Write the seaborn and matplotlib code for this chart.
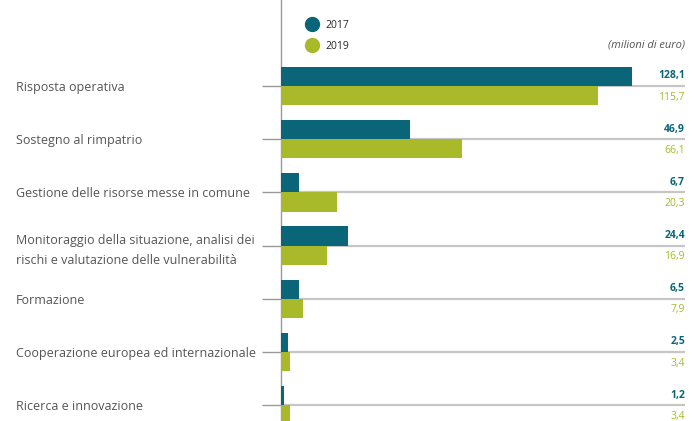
import matplotlib
matplotlib.use("Agg")
import matplotlib.pyplot as plt
from matplotlib.lines import Line2D
import seaborn as sns
import pandas as pd

categories = [
    "Risposta operativa",
    "Sostegno al rimpatrio",
    "Gestione delle risorse messe in comune",
    "Monitoraggio della situazione, analisi dei\nrischi e valutazione delle vulnerabilità",
    "Formazione",
    "Cooperazione europea ed internazionale",
    "Ricerca e innovazione",
]
values_2017 = [128.1, 46.9, 6.7, 24.4, 6.5, 2.5, 1.2]
values_2019 = [115.7, 66.1, 20.3, 16.9, 7.9, 3.4, 3.4]
years = ["2017", "2019"]
unit_label = "(milioni di euro)"

teal = "#0b6579"
green = "#a8b929"

df = pd.DataFrame({
    "cat": categories * 2,
    "val": values_2017 + values_2019,
    "year": [years[0]] * len(categories) + [years[1]] * len(categories),
})

sns.set_style("white")
plt.rcParams["font.family"] = ["Open Sans", "DejaVu Sans"]

W, H = 696, 421
fig = plt.figure(figsize=(W / 100, H / 100), dpi=100)
ax_left = 281 / W
ax_right = 685 / W
ax = fig.add_axes([ax_left, 0.0, ax_right - ax_left, 1.0])

sns.barplot(data=df, y="cat", x="val", hue="year", orient="h",
            palette=[teal, green], width=0.72, gap=0, saturation=1,
            legend=False, ax=ax, zorder=3, linewidth=0, edgecolor="none")

px_per_unit = 2.74
ax.set_xlim(0, (685 - 281) / px_per_unit)
spacing = 53.2
ax.set_ylim((H - 86) / spacing, -86 / spacing)

ax.set_xlabel("")
ax.set_ylabel("")
ax.set_xticks([])
ax.set_yticks(range(len(categories)))
ax.set_yticklabels(categories, ha="left", fontsize=9, color="#555555",
                   linespacing=1.7)
ax.tick_params(axis="y", length=14, width=1.0, color="#9a9a9a", pad=177, left=True)
ax.grid(axis="y", color="#c6c6c6", lw=1.6, zorder=1)
ax.set_axisbelow(True)

for s in ["top", "right", "bottom"]:
    ax.spines[s].set_visible(False)
ax.spines["left"].set_color("#9a9a9a")
ax.spines["left"].set_linewidth(1.0)

def fmt(v):
    return f"{v:.1f}".replace(".", ",")

for i, (a, b) in enumerate(zip(values_2017, values_2019)):
    ax.text(1.0, i - 0.19, fmt(a), transform=ax.get_yaxis_transform(),
            ha="right", va="center", fontsize=7.5, fontweight="bold", color=teal)
    ax.text(1.0, i + 0.21, fmt(b), transform=ax.get_yaxis_transform(),
            ha="right", va="center", fontsize=7.5, color=green)

handles = [Line2D([], [], marker="o", ls="", markersize=10, markerfacecolor=c,
                  markeredgecolor=c) for c in (teal, green)]
fig.legend(handles, years, loc="upper left", bbox_to_anchor=(306 / W, 1 - 20 / H),
           frameon=False, fontsize=7.5, handletextpad=0.7, labelspacing=0.95,
           handlelength=1.2, borderaxespad=0, borderpad=0)

fig.text(685 / W, 1 - 45 / H, unit_label, ha="right", va="center",
         fontsize=8, style="italic", color="#555555")

fig.savefig("out.png", dpi=100)
